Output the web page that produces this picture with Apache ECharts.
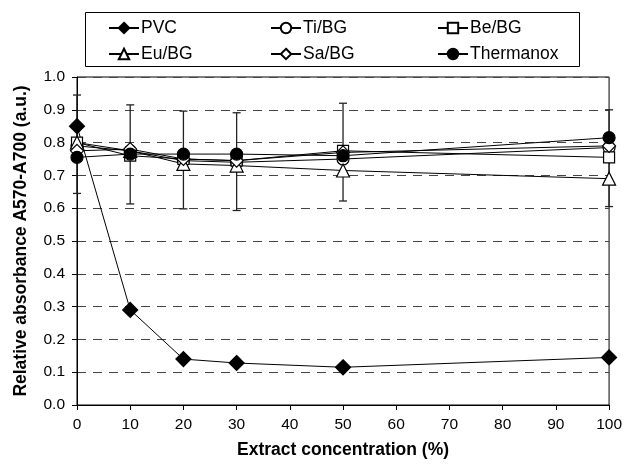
<!DOCTYPE html>
<html><head><meta charset="utf-8">
<script src="https://cdn.jsdelivr.net/npm/echarts@6/dist/echarts.min.js"></script>
<style>html,body{margin:0;padding:0;background:#fff}#c{width:625px;height:464px}</style>
</head><body><div id="c"></div>
<script>
const concentrations = [0, 10, 20, 30, 50, 100];
const pvc       = [0.85, 0.29, 0.14, 0.128, 0.115, 0.145];
const tiBG      = [0.79, 0.775, 0.745, 0.74, 0.75, 0.785];
const beBG      = [0.80, 0.76, 0.75, 0.745, 0.775, 0.755];
const euBG      = [0.80, 0.775, 0.735, 0.73, 0.715, 0.69];
const saBG      = [0.775, 0.78, 0.75, 0.745, 0.77, 0.79];
const thermanox = [0.755, 0.765, 0.765, 0.765, 0.76, 0.815];
const errLow    = [0.645, 0.613, 0.598, 0.593, 0.622, 0.605];
const errHigh   = [0.945, 0.915, 0.896, 0.891, 0.92, 0.90];

const FONT = 'Arial, "Liberation Sans", sans-serif';
const pairs = ys => concentrations.map((x, i) => [x, ys[i]]);

function lineSeries(name, ys, symbol, size, filled) {
  return {
    name, type: 'line', data: pairs(ys), symbol, symbolSize: size,
    lineStyle: { color: '#000', width: 1 },
    itemStyle: { color: filled ? '#000' : '#fff', borderColor: '#000', borderWidth: 1.2 },
    emphasis: { disabled: true }, z: 3
  };
}

const diamond = 'path://M0,-1L1,0L0,1L-1,0Z';

const chart = echarts.init(document.getElementById('c'), null, { renderer: 'canvas' });
const legendBase = {
  orient: 'vertical', top: 19, itemWidth: 30, itemHeight: 13, itemGap: 8,
  textStyle: { fontFamily: FONT, fontSize: 17.5, color: '#000', padding: [0, 0, 0, -3] },
  selectedMode: false, padding: 0
};
chart.setOption({
  animation: false,
  backgroundColor: '#fff',
  graphic: [{ type: 'rect', shape: { x: 85.5, y: 12.5, width: 494, height: 54 },
    style: { fill: '#fff', stroke: '#000', lineWidth: 1 }, z: -1 }],
  legend: [
    Object.assign({}, legendBase, { left: 108, data: ['PVC', 'Eu/BG'] }),
    Object.assign({}, legendBase, { left: 270, data: ['Ti/BG', 'Sa/BG'] }),
    Object.assign({}, legendBase, { left: 437, data: ['Be/BG', 'Thermanox'] })
  ],
  grid: { left: 77, right: 15, top: 77, bottom: 55, show: true, borderColor: '#000', borderWidth: 1, backgroundColor: 'transparent' },
  xAxis: {
    type: 'value', min: 0, max: 100, interval: 10,
    name: 'Extract concentration (%)', nameLocation: 'middle', nameGap: 36,
    nameTextStyle: { fontFamily: FONT, fontSize: 17.5, fontWeight: 'bold', color: '#000' },
    axisLine: { onZero: false, lineStyle: { color: '#000', width: 1 } },
    axisTick: { show: true, length: 5, inside: false, lineStyle: { color: '#000' } },
    axisLabel: { fontFamily: FONT, fontSize: 15.5, color: '#000', margin: 12 },
    splitLine: { show: false }
  },
  yAxis: {
    type: 'value', min: 0, max: 1, interval: 0.1,
    name: 'Relative absorbance A570-A700 (a.u.)', nameLocation: 'middle', nameGap: 47,
    nameTextStyle: { fontFamily: FONT, fontSize: 17.5, fontWeight: 'bold', color: '#000' },
    axisLine: { show: true, onZero: false, lineStyle: { color: '#000', width: 1 } },
    axisTick: { show: true, length: 5, lineStyle: { color: '#000' } },
    axisLabel: { fontFamily: FONT, fontSize: 15.5, color: '#000', margin: 12, formatter: v => v.toFixed(1) },
    splitLine: { show: true, lineStyle: { color: '#444', type: [9, 7], width: 1 } }
  },
  series: [
    {
      name: 'err', type: 'custom', z: 2,
      data: concentrations.map((x, i) => [x, errLow[i], errHigh[i]]),
      renderItem: (params, api) => {
        const lo = api.coord([api.value(0), api.value(1)]);
        const hi = api.coord([api.value(0), api.value(2)]);
        const w = 4;
        const st = { stroke: '#222', lineWidth: 1.3 };
        return { type: 'group', children: [
          { type: 'line', shape: { x1: lo[0], y1: lo[1], x2: hi[0], y2: hi[1] }, style: st },
          { type: 'line', shape: { x1: lo[0] - w, y1: lo[1], x2: lo[0] + w, y2: lo[1] }, style: st },
          { type: 'line', shape: { x1: hi[0] - w, y1: hi[1], x2: hi[0] + w, y2: hi[1] }, style: st }
        ]};
      }
    },
    lineSeries('PVC', pvc, diamond, 15, true),
    lineSeries('Ti/BG', tiBG, 'circle', 12, false),
    lineSeries('Be/BG', beBG, 'rect', 11, false),
    lineSeries('Eu/BG', euBG, 'triangle', 13, false),
    lineSeries('Sa/BG', saBG, diamond, 13, false),
    lineSeries('Thermanox', thermanox, 'circle', 12, true)
  ]
});
</script></body></html>
